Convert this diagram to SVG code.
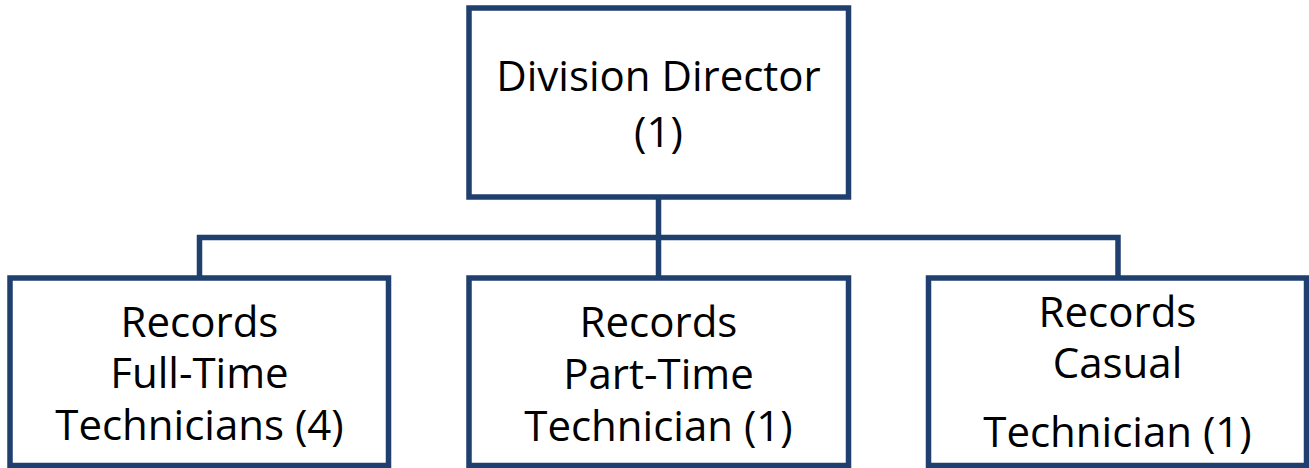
<svg xmlns="http://www.w3.org/2000/svg" width="1309" height="468" viewBox="0 0 1309 468">
  <style>
    .box { fill: #ffffff; stroke: #1F3F6E; stroke-width: 5.5; }
    .conn { fill: none; stroke: #1F3F6E; stroke-width: 5.5; }
    .lbl { font-family: "Open Sans", "Liberation Sans", sans-serif; font-size: 42px; fill: #000000; text-anchor: middle; }
  </style>
  <rect width="1309" height="468" fill="#ffffff"/>
  <g id="connectors">
    <path class="conn" d="M658.5,197 V237.5"/>
    <path class="conn" d="M199.5,278 V237.5 H1118 V278"/>
    <path class="conn" d="M658.5,237.5 V278"/>
  </g>
  <g id="director">
    <rect class="box" x="469" y="8" width="379.5" height="189"/>
    <text class="lbl" x="658.5" y="91">Division Director</text>
    <text class="lbl" x="658.5" y="147">(1)</text>
  </g>
  <g id="fulltime">
    <rect class="box" x="10" y="278" width="378.5" height="187.5"/>
    <text class="lbl" x="199.5" y="337">Records</text>
    <text class="lbl" x="199.5" y="388">Full-Time</text>
    <text class="lbl" x="199.5" y="440">Technicians (4)</text>
  </g>
  <g id="parttime">
    <rect class="box" x="469" y="278" width="379.5" height="187.5"/>
    <text class="lbl" x="658.5" y="337">Records</text>
    <text class="lbl" x="658.5" y="389">Part-Time</text>
    <text class="lbl" x="658.5" y="441">Technician (1)</text>
  </g>
  <g id="casual">
    <rect class="box" x="928.5" y="278" width="378" height="187.5"/>
    <text class="lbl" x="1117.5" y="327">Records</text>
    <text class="lbl" x="1117.5" y="378">Casual</text>
    <text class="lbl" x="1117.5" y="447">Technician (1)</text>
  </g>
</svg>
